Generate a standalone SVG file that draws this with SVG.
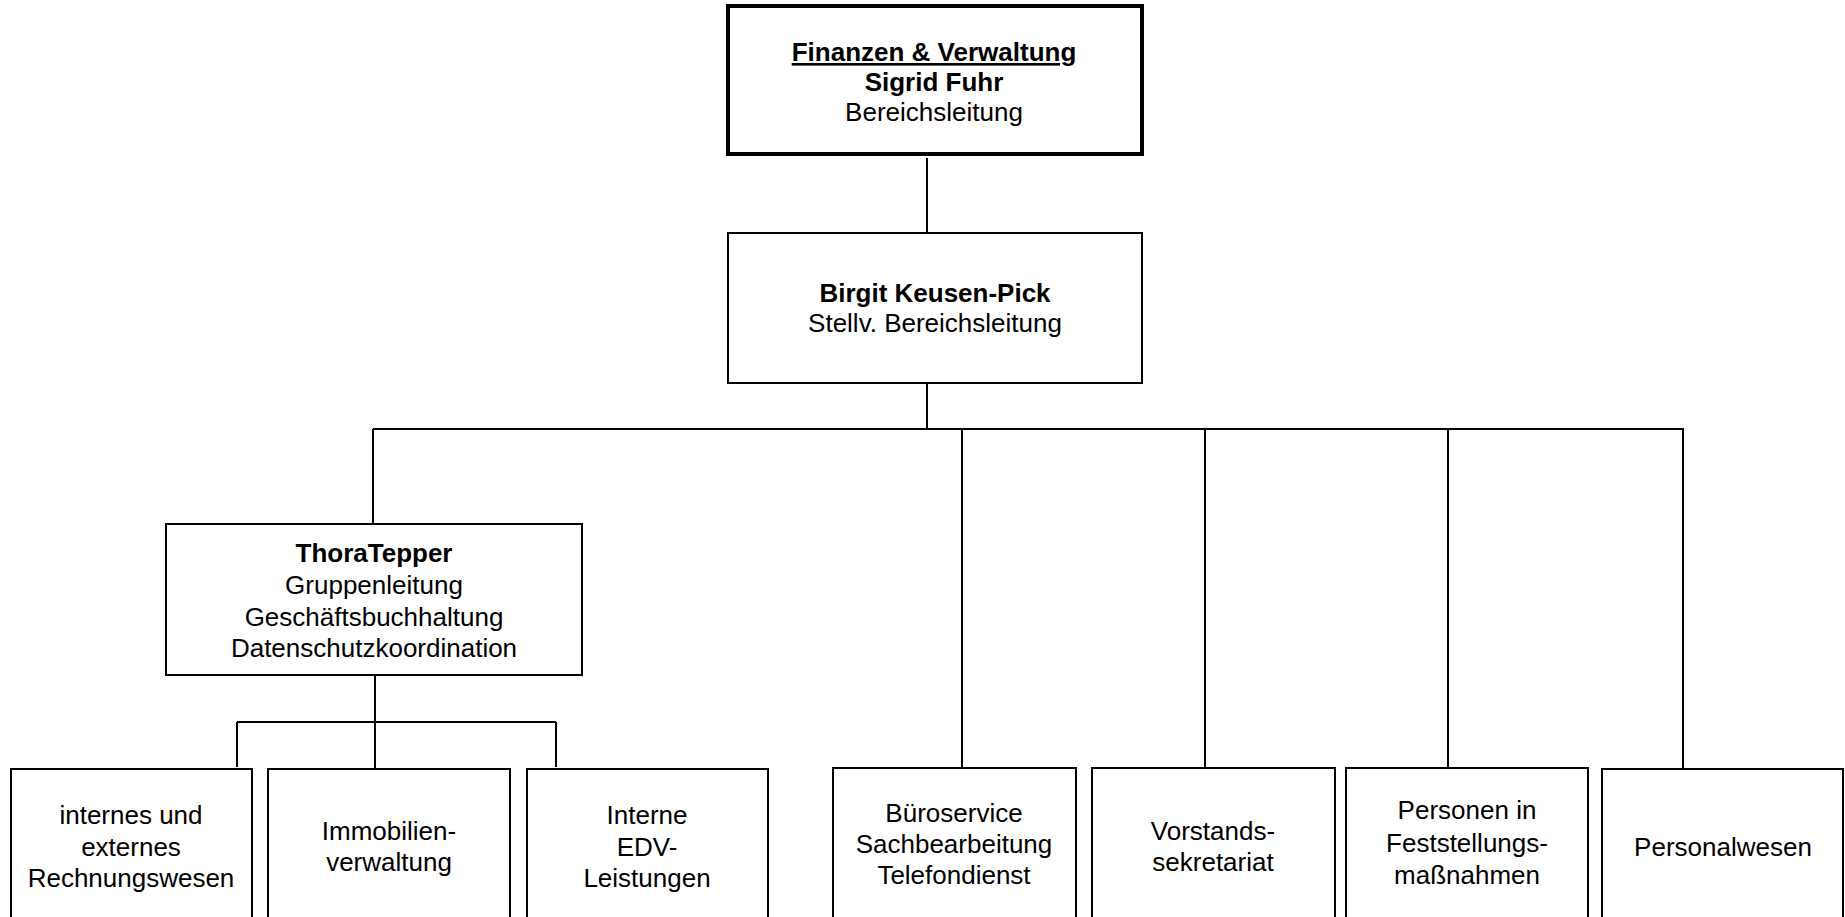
<svg xmlns="http://www.w3.org/2000/svg" width="1845" height="917" viewBox="0 0 1845 917">
<style>
.box{fill:#fff;stroke:#000;stroke-width:2}
.top{fill:#fff;stroke:#000;stroke-width:4}
.t{font-family:"Liberation Sans",Arial,sans-serif;font-size:26px;fill:#000;text-anchor:middle}
.b{font-weight:bold}
.c{stroke:#000;stroke-width:2;fill:none}
</style>
<rect width="1845" height="917" fill="#fff"/>
<g id="connectors">
<line class="c" x1="927" y1="158" x2="927" y2="234"/>
<line class="c" x1="927" y1="383" x2="927" y2="429"/>
<line class="c" x1="373" y1="429" x2="1684" y2="429"/>
<line class="c" x1="373" y1="429" x2="373" y2="524"/>
<line class="c" x1="962" y1="429" x2="962" y2="768"/>
<line class="c" x1="1205" y1="429" x2="1205" y2="768"/>
<line class="c" x1="1448" y1="429" x2="1448" y2="768"/>
<line class="c" x1="1683" y1="429" x2="1683" y2="768"/>
<line class="c" x1="375" y1="675" x2="375" y2="768"/>
<line class="c" x1="237" y1="722" x2="556" y2="722"/>
<line class="c" x1="237" y1="722" x2="237" y2="767"/>
<line class="c" x1="556" y1="722" x2="556" y2="767"/>
</g>
<g id="finanzen">
<rect class="top" x="728" y="6" width="414" height="148"/>
<text class="t b" x="934" y="61" text-decoration="underline">Finanzen &amp; Verwaltung</text>
<text class="t b" x="934" y="91">Sigrid Fuhr</text>
<text class="t" x="934" y="121">Bereichsleitung</text>
</g>
<g id="keusen">
<rect class="box" x="728" y="233" width="414" height="150"/>
<text class="t b" x="935" y="302">Birgit Keusen-Pick</text>
<text class="t" x="935" y="332">Stellv. Bereichsleitung</text>
</g>
<g id="tepper">
<rect class="box" x="166" y="524" width="416" height="151"/>
<text class="t b" x="374" y="562">ThoraTepper</text>
<text class="t" x="374" y="594">Gruppenleitung</text>
<text class="t" x="374" y="626">Geschäftsbuchhaltung</text>
<text class="t" x="374" y="657">Datenschutzkoordination</text>
</g>
<g id="rechnungswesen">
<rect class="box" x="11" y="769" width="241" height="200"/>
<text class="t" x="131" y="824">internes und</text>
<text class="t" x="131" y="856">externes</text>
<text class="t" x="131" y="887">Rechnungswesen</text>
</g>
<g id="immobilien">
<rect class="box" x="268" y="769" width="242" height="200"/>
<text class="t" x="389" y="840">Immobilien-</text>
<text class="t" x="389" y="871">verwaltung</text>
</g>
<g id="edv">
<rect class="box" x="527" y="769" width="241" height="200"/>
<text class="t" x="647" y="824">Interne</text>
<text class="t" x="647" y="856">EDV-</text>
<text class="t" x="647" y="887">Leistungen</text>
</g>
<g id="bueroservice">
<rect class="box" x="833" y="768" width="243" height="200"/>
<text class="t" x="954" y="822">Büroservice</text>
<text class="t" x="954" y="853">Sachbearbeitung</text>
<text class="t" x="954" y="884">Telefondienst</text>
</g>
<g id="vorstand">
<rect class="box" x="1092" y="768" width="243" height="200"/>
<text class="t" x="1213" y="840">Vorstands-</text>
<text class="t" x="1213" y="871">sekretariat</text>
</g>
<g id="feststellung">
<rect class="box" x="1346" y="768" width="242" height="200"/>
<text class="t" x="1467" y="819">Personen in</text>
<text class="t" x="1467" y="852">Feststellungs-</text>
<text class="t" x="1467" y="884">maßnahmen</text>
</g>
<g id="personal">
<rect class="box" x="1602" y="769" width="241" height="200"/>
<text class="t" x="1723" y="856">Personalwesen</text>
</g>
</svg>
